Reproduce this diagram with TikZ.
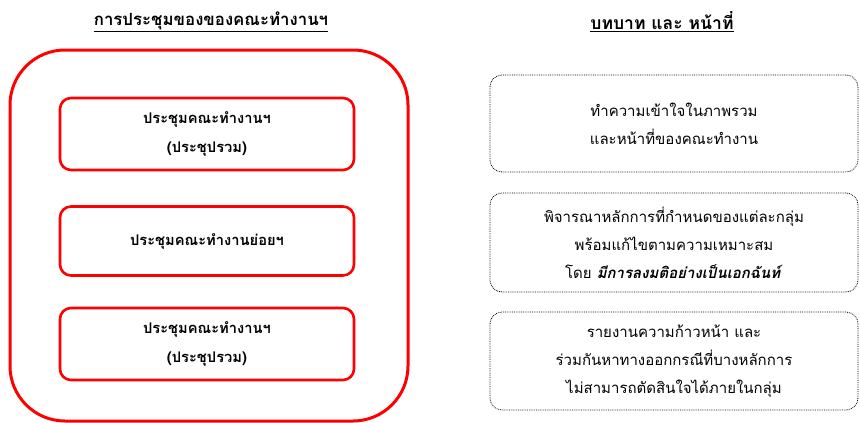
\documentclass[tikz,border=0pt]{standalone}
\usepackage{fontspec}
\setmainfont[Script=Thai]{Loma}
\usetikzlibrary{positioning}
\begin{document}
\begin{tikzpicture}[x=1pt,y=-1pt,
  redbox/.style={draw=red, line width=2.6pt, rounded corners=11pt, align=center, font=\bfseries\fontsize{14.7}{29}\selectfont, inner sep=0pt},
  dotbox/.style={draw=black, densely dotted, line width=0.8pt, rounded corners=12pt, align=center, font=\fontsize{15}{28}\selectfont, inner sep=0pt},
  title/.style={font=\bfseries\fontsize{16.8}{18}\selectfont, anchor=center}]
\useasboundingbox (0,0) rectangle (860,423);
% titles
\node[title] (tl) at (211,22) {\underline{การประชุมของของคณะทำงานฯ}};
\node[title, font=\bfseries\fontsize{17.5}{18}\selectfont] (tr) at (662,22) {\underline{บทบาท และ หน้าที่}};
% outer red box
\draw[red, line width=3pt, rounded corners=55pt] (10,50) rectangle (408,421);
\node (outer) at (209,235.5) {};
% left boxes
\node[redbox, minimum width=294pt, minimum height=72pt] (m1) at (207,134) {ประชุมคณะทำงานฯ\\(ประชุปรวม)};
\node[redbox, minimum width=294pt, minimum height=69pt] (m2) at (207,241) {\raisebox{3pt}{ประชุมคณะทำงานย่อยฯ}};
\node[redbox, minimum width=294pt, minimum height=72pt] (m3) at (207,344) {ประชุมคณะทำงานฯ\\(ประชุปรวม)};
% right boxes
\node[dotbox, minimum width=368pt, minimum height=97pt] (r1) at (674,123.5) {ทำความเข้าใจในภาพรวม\\และหน้าที่ของคณะทำงาน};
\node[dotbox, minimum width=368pt, minimum height=99pt] (r2) at (674,242.5) {พิจารณาหลักการที่กำหนดของแต่ละกลุ่ม\\พร้อมแก้ไขตามความเหมาะสม\\โดย \textbf{\itshape มีการลงมติอย่างเป็นเอกฉันท์}};
\node[dotbox, minimum width=368pt, minimum height=98pt] (r3) at (674,361) {รายงานความก้าวหน้า และ\\ร่วมกันหาทางออกกรณีที่บางหลักการ\\ไม่สามารถตัดสินใจได้ภายในกลุ่ม};
\end{tikzpicture}
\end{document}
